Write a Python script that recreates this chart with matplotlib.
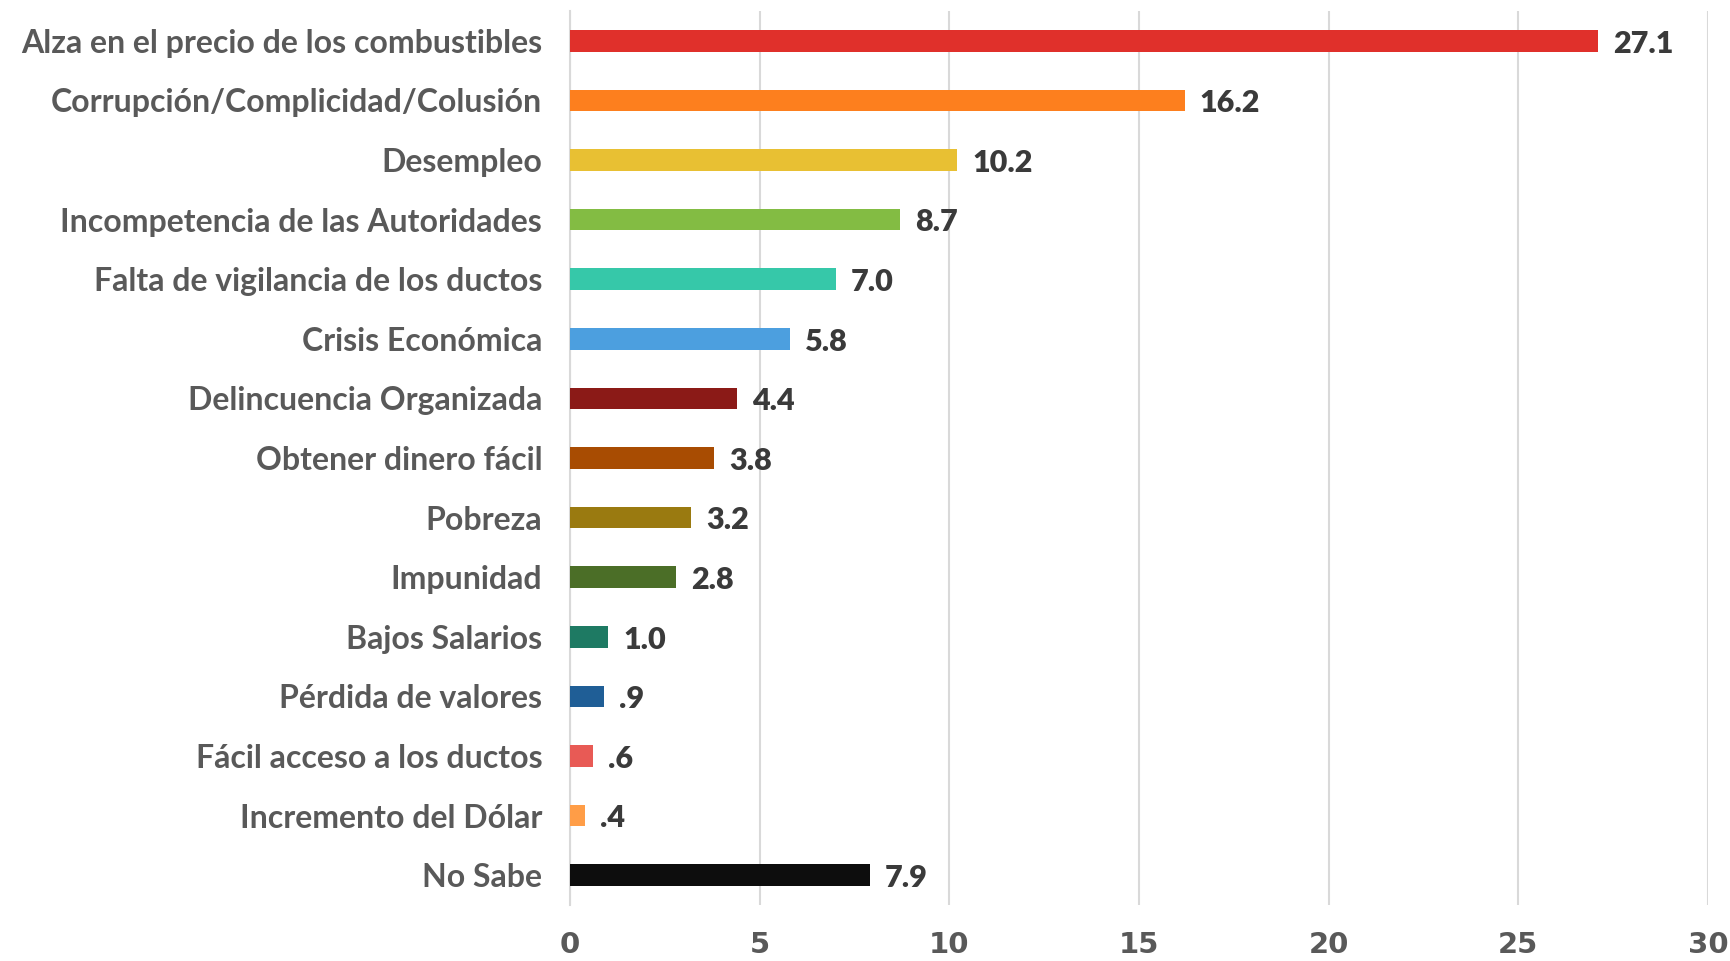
import numpy as np
import matplotlib.pyplot as plt

categories = ['Alza en el precio de los combustibles', 'Corrupción/Complicidad/Colusión',
              'Desempleo', 'Incompetencia de las Autoridades', 'Falta de vigilancia de los ductos',
              'Crisis Económica', 'Delincuencia Organizada', 'Obtener dinero fácil', 'Pobreza',
              'Impunidad', 'Bajos Salarios', 'Pérdida de valores', 'Fácil acceso a los ductos',
              'Incremento del Dólar', 'No Sabe']
values = [27.1, 16.2, 10.2, 8.7, 7.0, 5.8, 4.4, 3.8, 3.2, 2.8, 1.0, 0.9, 0.6, 0.4, 7.9]
labels = ['27.1', '16.2', '10.2', '8.7', '7.0', '5.8', '4.4', '3.8', '3.2', '2.8',
          '1.0', '.9', '.6', '.4', '7.9']
colors = ['#E0302B', '#FD7F1E', '#E8C033', '#83BC43', '#36C8A9', '#4C9FDF', '#8B1A17',
          '#A84C02', '#9A7A10', '#4B6E27', '#1E7A63', '#1F5E96', '#E85A55', '#FF9D47', '#0D0D0D']

fig = plt.figure(figsize=(17.3, 9.61), dpi=100)
ax = fig.add_axes([570 / 1730, 1 - 905 / 961, (1708 - 570) / 1730, (905 - 11) / 961])

y = np.arange(len(values))
ax.barh(y, values, height=0.365, color=colors, zorder=3)
ax.set_ylim(len(values) - 0.5, -0.5)
ax.set_xlim(0, 30)
ax.set_xticks(range(0, 31, 5))
ax.set_yticks(y)
ax.set_yticklabels(categories, fontsize=23, fontweight='bold', color='#595959', family='Lato')
ax.tick_params(axis='y', length=0, pad=20)
ax.tick_params(axis='x', length=0, pad=19)
for t in ax.get_xticklabels():
    t.set_fontsize(21)
    t.set_fontweight('bold')
    t.set_color('#595959')
    t.set_family('DejaVu Sans')

ax.grid(axis='x', color='#D9D9D9', lw=1.5, zorder=0)
for s in ['top', 'right', 'bottom']:
    ax.spines[s].set_visible(False)
ax.spines['left'].set_color('#D9D9D9')
ax.spines['left'].set_linewidth(1.5)

for yi, v, lab in zip(y, values, labels):
    ax.annotate(lab, (v, yi), xytext=(11, -2), textcoords='offset points', va='center',
                ha='left', fontsize=22, fontweight='heavy', color='#3A3A3A', family='Lato')

fig.savefig('out.png', dpi=100)
